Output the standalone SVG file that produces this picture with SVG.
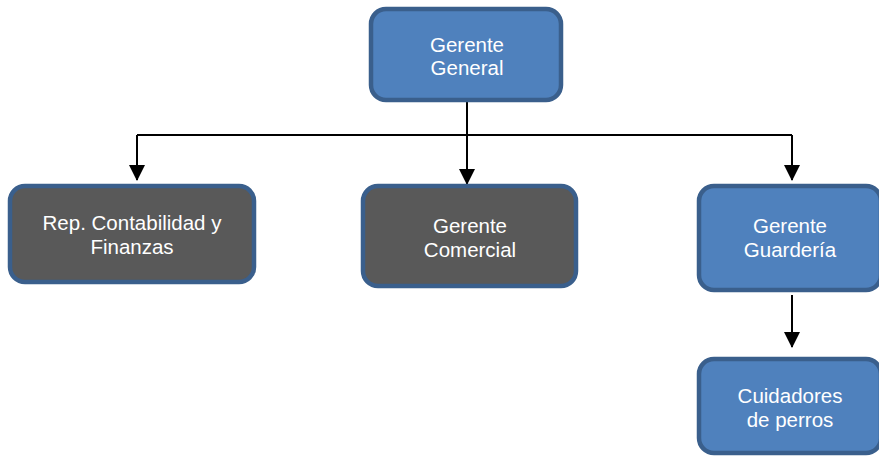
<svg xmlns="http://www.w3.org/2000/svg" width="879" height="457" viewBox="0 0 879 457">
<defs>
<style>
.box{stroke:#3A5F8C;stroke-width:4.5}
.blue{fill:#4F81BD}
.gray{fill:#595959}
.t{font-family:"Liberation Sans",Arial,sans-serif;font-size:20.5px;fill:#FFFFFF;text-anchor:middle}
.c{fill:none;stroke:#000;stroke-width:2}
</style>
<marker id="arr" markerWidth="16" markerHeight="18" refX="15" refY="8" orient="auto" markerUnits="userSpaceOnUse" viewBox="0 0 16 16">
<path d="M0,0 L16,8 L0,16 Z" fill="#000"/>
</marker>
</defs>
<g id="connectors">
<path class="c" d="M467,101 V135"/>
<path class="c" d="M137,135 H792"/>
<path class="c" d="M137,135 V180" marker-end="url(#arr)"/>
<path class="c" d="M467,135 V184" marker-end="url(#arr)"/>
<path class="c" d="M792,135 V180" marker-end="url(#arr)"/>
<path class="c" d="M792,295 V347" marker-end="url(#arr)"/>
</g>
<g id="gerente-general">
<rect class="box blue" x="371" y="9" width="190" height="91" rx="15"/>
<text class="t" x="467" y="52">Gerente</text>
<text class="t" x="467" y="75">General</text>
</g>
<g id="rep-contabilidad">
<rect class="box gray" x="10" y="186" width="244" height="96" rx="15"/>
<text class="t" x="132" y="230">Rep. Contabilidad y</text>
<text class="t" x="132" y="254">Finanzas</text>
</g>
<g id="gerente-comercial">
<rect class="box gray" x="363" y="186" width="213" height="100" rx="15"/>
<text class="t" x="470" y="233">Gerente</text>
<text class="t" x="470" y="257">Comercial</text>
</g>
<g id="gerente-guarderia">
<rect class="box blue" x="699" y="186" width="182" height="104" rx="15"/>
<text class="t" x="790" y="233">Gerente</text>
<text class="t" x="790" y="257">Guardería</text>
</g>
<g id="cuidadores">
<rect class="box blue" x="699" y="359" width="182" height="94" rx="15"/>
<text class="t" x="790" y="403">Cuidadores</text>
<text class="t" x="790" y="427">de perros</text>
</g>
</svg>
